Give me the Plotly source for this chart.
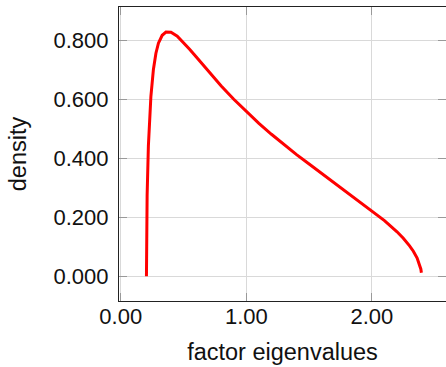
import plotly.graph_objects as go

# eigenvalue (x) and density (y)
eigenvalues = [0.2046, 0.205, 0.207, 0.21, 0.22, 0.23, 0.24, 0.26, 0.28, 0.30, 0.33,
               0.36, 0.40, 0.45, 0.50, 0.55, 0.60, 0.65, 0.70, 0.80, 0.90, 1.00,
               1.10, 1.20, 1.30, 1.40, 1.50, 1.60, 1.70, 1.80, 1.90, 2.00,
               2.10, 2.20, 2.25, 2.30, 2.33, 2.36, 2.38, 2.39, 2.394]
density = [0.000, 0.081, 0.188, 0.276, 0.442, 0.541, 0.611, 0.702, 0.757, 0.791, 0.818,
           0.829, 0.828, 0.815, 0.794, 0.770, 0.745, 0.720, 0.695, 0.646, 0.601, 0.559,
           0.519, 0.482, 0.447, 0.413, 0.381, 0.349, 0.318, 0.287, 0.256, 0.224,
           0.189, 0.151, 0.129, 0.103, 0.085, 0.062, 0.041, 0.024, 0.012]

x_ticks = [0.0, 1.0, 2.0]
y_ticks = [0.0, 0.2, 0.4, 0.6, 0.8]

FONT = "Liberation Sans"
FS = 22
TFS = 23.5

fig = go.Figure()
fig.add_trace(go.Scatter(x=eigenvalues, y=density, mode="lines",
                         line=dict(color="#ff0000", width=3), showlegend=False))

axis_common = dict(showline=True, linecolor="#222222", linewidth=1.2,
                   mirror="allticks", ticks="inside", ticklen=8, tickcolor="#999999",
                   tickwidth=1.2, showgrid=True, gridcolor="#d9d9d9", gridwidth=1,
                   zeroline=False, tickfont=dict(family=FONT, size=FS, color="#111"))

fig.update_xaxes(range=[-0.014, 2.59], tickvals=x_ticks, tickformat=".2f",
                 ticklabelstandoff=-5,
                 title=dict(text="factor eigenvalues", font=dict(family=FONT, size=TFS, color="#111"),
                            standoff=16),
                 **axis_common)
fig.update_yaxes(range=[-0.084, 0.914], tickvals=y_ticks, tickformat=".3f",
                 ticklabelstandoff=5,
                 title=dict(text="density", font=dict(family=FONT, size=TFS, color="#111"),
                            standoff=20),
                 **axis_common)

fig.update_layout(width=446, height=367, margin=dict(l=119, r=0, t=7, b=66),
                  plot_bgcolor="white", paper_bgcolor="white",
                  font=dict(family=FONT, size=FS, color="#111"))

fig.write_html("out.html")
